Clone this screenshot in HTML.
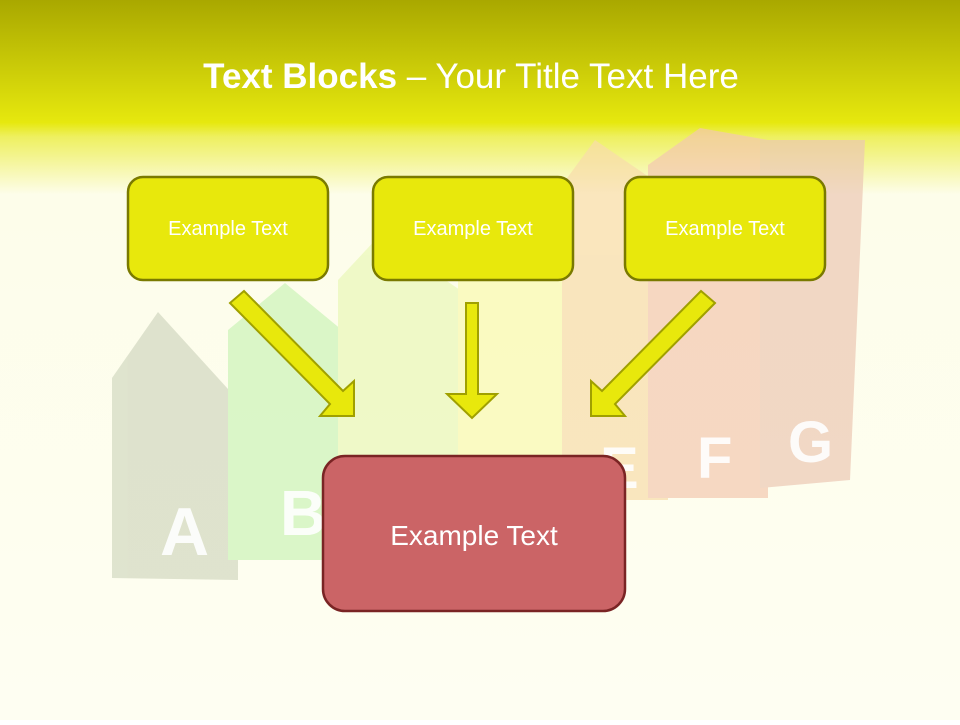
<!DOCTYPE html>
<html><head><meta charset="utf-8"><style>
html,body{margin:0;padding:0;}
body{width:960px;height:720px;overflow:hidden;font-family:"Liberation Sans",sans-serif;}
</style></head><body>
<svg width="960" height="720" viewBox="0 0 960 720" xmlns="http://www.w3.org/2000/svg">
<defs>
<linearGradient id="bg" x1="0" y1="0" x2="0" y2="1">
<stop offset="0" stop-color="#a9a800"/>
<stop offset="0.17" stop-color="#e6e80e"/>
<stop offset="0.19" stop-color="#eef060"/>
<stop offset="0.27" stop-color="#fdfdea"/>
<stop offset="1" stop-color="#fefef2"/>
</linearGradient>
</defs>
<rect width="960" height="720" fill="url(#bg)"/>
<g opacity="0.7">
<polygon points="112,378 158,312 238,400 238,580 112,578" fill="#d2d8c0"/>
<polygon points="228,330 285,283 348,335 348,560 228,560" fill="#ccf4b8"/>
<polygon points="338,280 380,235 460,290 460,535 338,535" fill="#eaf8b8"/>
<rect x="458" y="260" width="112" height="250" fill="#fafab0"/>
<polygon points="562,185 595,140 668,190 668,500 562,500" fill="#f8dcaa"/>
<polygon points="648,165 700,128 768,140 768,498 648,498" fill="#f4c8b0"/>
<polygon points="760,140 865,140 850,480 760,488" fill="#ecc8b4"/>
</g>
<g fill="#fff" font-weight="bold" font-family="Liberation Sans,sans-serif" opacity="0.9">
<text x="160" y="555" font-size="68">A</text>
<text x="280" y="535" font-size="64">B</text>
<text x="600" y="488" font-size="58">E</text>
<text x="697" y="478" font-size="58">F</text>
<text x="788" y="462" font-size="58">G</text>
</g>
<text x="471" y="88" text-anchor="middle" font-size="35" fill="#fff" font-family="Liberation Sans,sans-serif"><tspan font-weight="bold">Text Blocks</tspan> – Your Title Text Here</text>
<g fill="#e8e80c" stroke="#a0a000" stroke-width="2">
<polygon points="230,303 244,291 343,391 354,381 354,416 320,416 330,404"/>
<polygon points="715,303 701,291 602,391 591,381 591,416 625,416 615,404"/>
<polygon points="466,303 478,303 478,394 497,394 472,418 447,394 466,394"/>
</g>
<g fill="#e8e80c" stroke="#7a7a00" stroke-width="2.5">
<rect x="128" y="177" width="200" height="103" rx="15"/>
<rect x="373" y="177" width="200" height="103" rx="15"/>
<rect x="625" y="177" width="200" height="103" rx="15"/>
</g>
<g fill="#fff" font-size="20" text-anchor="middle" font-family="Liberation Sans,sans-serif">
<text x="228" y="235">Example Text</text>
<text x="473" y="235">Example Text</text>
<text x="725" y="235">Example Text</text>
</g>
<rect x="323" y="456" width="302" height="155" rx="22" fill="#cb6466" stroke="#7a2424" stroke-width="2.5"/>
<text x="474" y="545" text-anchor="middle" font-size="28" fill="#fff" font-family="Liberation Sans,sans-serif">Example Text</text>
</svg>
</body></html>
